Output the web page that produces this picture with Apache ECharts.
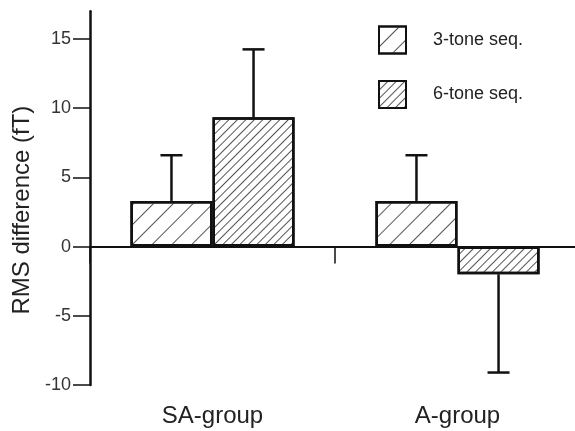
<!DOCTYPE html>
<html>
<head>
<meta charset="utf-8">
<script src="https://cdn.jsdelivr.net/npm/echarts@6/dist/echarts.min.js"></script>
<style>
html,body{margin:0;padding:0;background:#fff;overflow:hidden;}
#chart{width:575px;height:431px;}
</style>
</head>
<body>
<div id="chart"></div>
<script>
// ---- data ----
var categories = ['SA-group', 'A-group'];
var seriesNames = ['3-tone seq.', '6-tone seq.'];
var threeTone = [3.3, 3.3];
var sixTone = [9.35, -2.0];
var threeToneErr = [3.3, 3.3];
var sixToneErr = [4.9, 7.1];
var yTicks = [-10, -5, 0, 5, 10, 15];

var FONT = '"Liberation Sans", Arial, Helvetica, sans-serif';
var INK = '#111';
var GAP = 0.33; // barCategoryGap
var OFFSET = (1 - GAP) / 4; // bar centre offset as a fraction of the band

function errRender(params, api) {
  var cat = api.value(0), v = api.value(1), err = api.value(2), side = api.value(3);
  var band = api.size([1, 0])[0];
  var p0 = api.coord([cat, v]);
  var end = v >= 0 ? v + err : v - err;
  var p1 = api.coord([cat, end]);
  var x = p0[0] + side * band * OFFSET;
  var cap = 11;
  return {
    type: 'group',
    children: [
      {type: 'line', shape: {x1: x, y1: p0[1], x2: x, y2: p1[1]}, style: {stroke: INK, lineWidth: 2.5}},
      {type: 'line', shape: {x1: x - cap, y1: p1[1], x2: x + cap, y2: p1[1]}, style: {stroke: INK, lineWidth: 2.5}}
    ]
  };
}

var chart = echarts.init(document.getElementById('chart'), null, {renderer: 'canvas'});
chart.setOption({
  animation: false,
  backgroundColor: '#fff',
  textStyle: {fontFamily: FONT},
  grid: {left: 90, top: 11.3, width: 490, height: 373.7, containLabel: false, outerBoundsMode: 'none'},
  legend: {
    data: seriesNames,
    orient: 'vertical',
    left: 378, top: 25.5,
    padding: 0,
    icon: 'rect',
    itemWidth: 27, itemHeight: 27,
    itemGap: 25.5,
    textStyle: {fontFamily: FONT, fontSize: 18, color: '#222', padding: [0, 0, 0, 22]}
  },
  xAxis: [{
    type: 'category',
    data: categories,
    axisLine: {onZero: true, lineStyle: {color: INK, width: 2}},
    axisTick: {show: true, length: 17, lineStyle: {color: INK, width: 1.5}},
    axisLabel: {show: false},
    splitLine: {show: false}
  }, {
    type: 'category',
    data: categories,
    position: 'bottom',
    axisLine: {show: false, onZero: false},
    axisTick: {show: false},
    axisLabel: {show: true, fontFamily: FONT, fontSize: 24, color: '#222', margin: 19},
    splitLine: {show: false}
  }],
  yAxis: {
    type: 'value',
    min: -10, max: 17, interval: 5,
    name: 'RMS difference (fT)',
    nameLocation: 'middle',
    nameGap: 46,
    nameTextStyle: {fontFamily: FONT, fontSize: 24, color: '#222', padding: [0, 24, 0, 0]},
    axisLine: {show: true, lineStyle: {color: INK, width: 2.5}},
    axisTick: {show: true, length: 17, customValues: yTicks, lineStyle: {color: INK, width: 1.5}},
    axisLabel: {
      fontFamily: FONT, fontSize: 18, color: '#333', margin: 19, customValues: yTicks,
      formatter: function (v) { return yTicks.indexOf(v) >= 0 ? String(v) : ''; }
    },
    splitLine: {show: false}
  },
  series: [{
    name: seriesNames[0],
    type: 'bar',
    xAxisIndex: 0,
    data: threeTone,
    barGap: '0%',
    barCategoryGap: '33%',
    itemStyle: {
      color: '#fff', borderColor: INK, borderWidth: 2.5,
      decal: {symbol: 'rect', symbolSize: 1, dashArrayX: [1, 0], dashArrayY: [1, 13], rotation: -Math.PI / 4, color: '#555'}
    }
  }, {
    name: seriesNames[1],
    type: 'bar',
    xAxisIndex: 0,
    data: sixTone,
    barGap: '0%',
    barCategoryGap: '33%',
    itemStyle: {
      color: '#fff', borderColor: INK, borderWidth: 2.5,
      decal: {symbol: 'rect', symbolSize: 1, dashArrayX: [1, 0], dashArrayY: [1, 5], rotation: -Math.PI / 4, color: '#555'}
    }
  }, {
    type: 'custom',
    name: 'err3',
    xAxisIndex: 0,
    renderItem: errRender,
    encode: {x: 0, y: 1},
    z: 5,
    data: threeTone.map(function (v, i) { return [i, v, threeToneErr[i], -1]; })
  }, {
    type: 'custom',
    name: 'err6',
    xAxisIndex: 0,
    renderItem: errRender,
    encode: {x: 0, y: 1},
    z: 5,
    data: sixTone.map(function (v, i) { return [i, v, sixToneErr[i], 1]; })
  }]
});
</script>
</body>
</html>
